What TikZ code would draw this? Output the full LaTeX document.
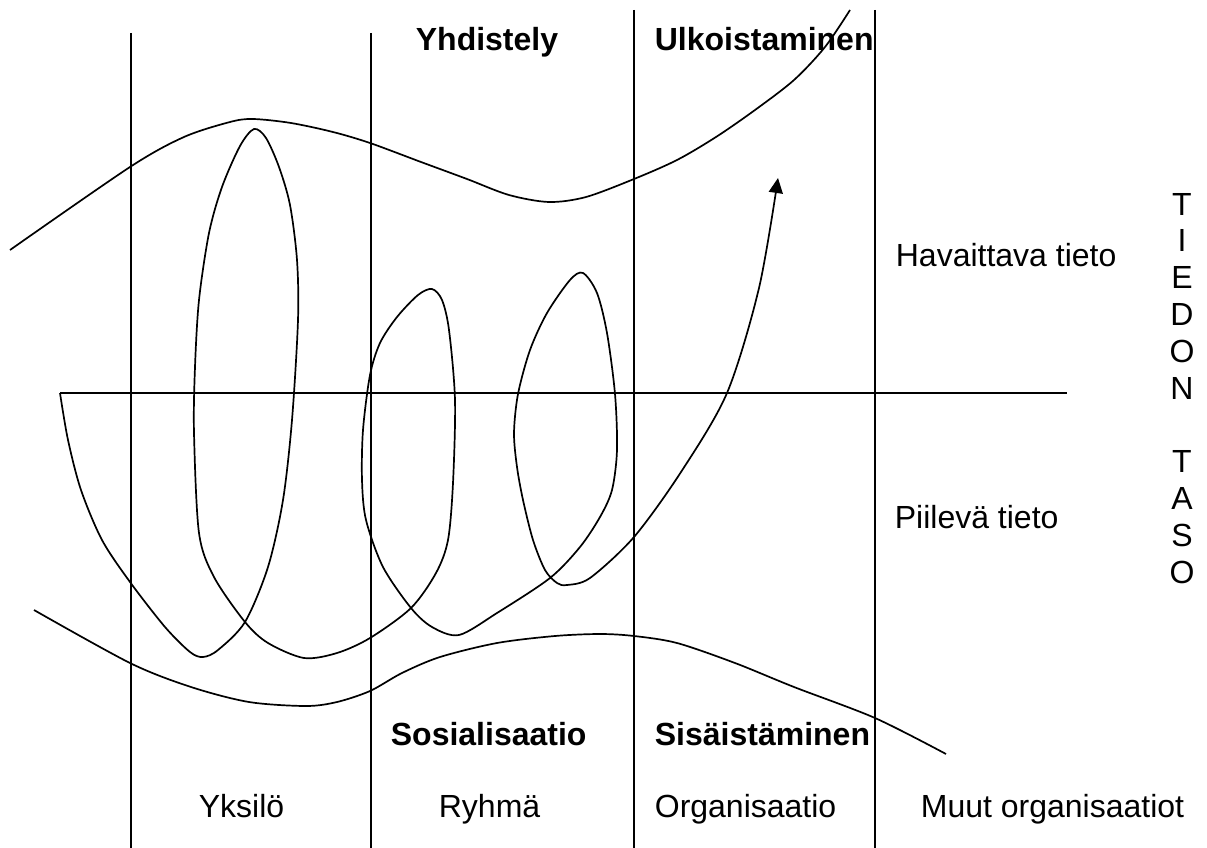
\documentclass[tikz,border=0pt]{standalone}
\usepackage{fontspec}
\setmainfont{Liberation Sans}
\usetikzlibrary{arrows.meta}
\tikzset{
    lbl/.style={anchor=base west, inner sep=0pt, font=\fontsize{32}{37}\selectfont},
    boldlbl/.style={lbl, font=\fontsize{32}{37}\selectfont\bfseries},
}

\begin{document}
\begin{tikzpicture}[x=1pt, y=-1pt, line width=1.7pt, line join=round]
    \useasboundingbox (0,0) rectangle (1207,848);
        \foreach \x/\t in {131/33,371/33,634/10,875/10}
        {
            \draw (\x,\t) -- (\x,848);
        }
        \draw (60,393) -- (1067,393);
        \draw plot[smooth] coordinates {(10,250) (130,167) (184,137) (230,122) (253,119) (291,123)
            (333,132) (370,143) (421,162) (467,179) (509,195) (549,202) (586,197) (634,179)
            (677,160) (716,137) (755,110) (794,80) (825,47) (850,10)};
        \draw plot[smooth] coordinates {(34,610) (130,663) (191,687) (249,702) (306,706)
            (337,702) (370,691) (402,673) (440,657) (497,643) (555,636) (600,634) (634,636)
            (677,643) (735,663) (794,687) (875,718) (946,754)};
        \draw[-{Triangle[length=15pt,width=14pt]}] plot[smooth] coordinates {(60,393) (68,440)
            (81,490) (102,540) (130,582) (165,627) (190,652) (203,657) (218,650) (245,622)
            (268,567) (283,500) (292,420) (298,320) (297,260) (290,205) (279,167) (266,138)
            (254,129) (240,146) (222,187) (209,233) (199,300) (195,367) (194,433) (199,533)
            (214,577) (245,622) (268,643) (304,658) (337,653) (370,638) (411,608) (436,573)
            (448,540) (453,483) (455,400) (449,330) (442,300) (432,289) (418,295) (397,317)
            (380,343) (370,375) (363,430) (362,480) (366,520) (383,567) (411,608) (432,627)
            (459,635) (497,613) (550,578) (580,547) (600,517) (612,490) (617,450) (615,394)
            (607,333) (597,293) (583,273) (570,280) (547,313) (530,350) (518,394) (514,433)
            (517,467) (523,500) (533,540) (545,570) (557,583) (567,585) (590,578) (634,537)
            (681,472) (727,393) (759,288) (778,178)};
        \node[boldlbl] (yhdistely) at (415,51) {Yhdistely};
        \node[boldlbl] (ulkoistaminen) at (654,51) {Ulkoistaminen};
        \node[boldlbl] (sosialisaatio) at (390,745) {Sosialisaatio};
        \node[boldlbl] (sisaistaminen) at (654,745) {Sisäistäminen};
        \node[lbl] (yksilo) at (198,817) {Yksilö};
        \node[lbl] (ryhma) at (438,817) {Ryhmä};
        \node[lbl] (organisaatio) at (654,817) {Organisaatio};
        \node[lbl] (muut) at (920,817) {Muut organisaatiot};
        \node[lbl] (havaittava) at (895,266) {Havaittava tieto};
        \node[lbl] (piileva) at (894,528) {Piilevä tieto};
        \foreach \c/\k in {T/0,I/1,E/2,D/3,O/4,N/5,T/7,A/8,S/9,O/10}
        {
            \node[lbl, anchor=base] (taso\k) at (1182,215+36.8*\k) {\c};
        }
    \end{tikzpicture}
\end{document}
